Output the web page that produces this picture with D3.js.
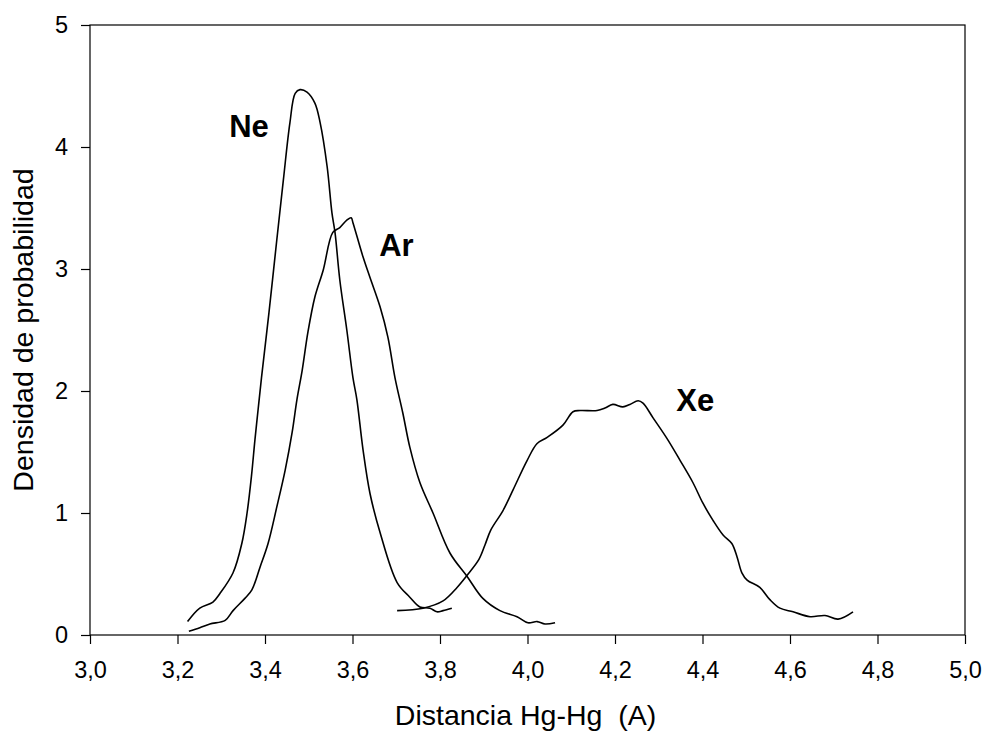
<!DOCTYPE html>
<html lang="en">
<head>
    <meta charset="UTF-8">
    <title>Densidad de probabilidad</title>
    <style>
        body { margin: 0; background: #fff; }
        svg { font-family: "Liberation Sans", Arial, sans-serif; }
        .curve { fill: none; stroke: #000; stroke-width: 1.6px; }
        .axis path, .axis line { stroke: #000; stroke-width: 1.2px; }
        .axis text { font-size: 23.5px; fill: #000; }
        .label { font-size: 31px; font-weight: bold; }
        .title { font-size: 28.5px; }
    </style>
    <script src="https://d3js.org/d3.v7.min.js"></script>
</head>
<body>
    <script>

        // Curves: [distance, density]
        const neData = [
            [3.223, 0.11], [3.251, 0.22], [3.281, 0.27], [3.297, 0.34], [3.327, 0.51],
            [3.347, 0.75], [3.359, 1.00], [3.369, 1.30], [3.377, 1.60], [3.384, 1.84],
            [3.392, 2.11], [3.409, 2.64], [3.427, 3.24], [3.442, 3.73], [3.457, 4.20],
            [3.469, 4.44], [3.480, 4.47], [3.496, 4.45], [3.514, 4.36], [3.526, 4.20],
            [3.542, 3.84], [3.553, 3.46], [3.560, 3.30], [3.571, 2.91], [3.587, 2.50],
            [3.601, 2.11], [3.610, 1.93], [3.624, 1.52], [3.640, 1.16], [3.663, 0.84],
            [3.702, 0.43], [3.731, 0.31], [3.754, 0.23], [3.777, 0.22], [3.793, 0.19],
            [3.807, 0.20], [3.827, 0.22]
        ];
        const arData = [
            [3.226, 0.03], [3.251, 0.06], [3.274, 0.09], [3.309, 0.12], [3.327, 0.20],
            [3.354, 0.30], [3.370, 0.37], [3.389, 0.56], [3.407, 0.75], [3.427, 1.05],
            [3.446, 1.35], [3.462, 1.66], [3.473, 1.93], [3.485, 2.17], [3.498, 2.48],
            [3.514, 2.77], [3.533, 2.99], [3.555, 3.30], [3.571, 3.34], [3.587, 3.40],
            [3.597, 3.42], [3.601, 3.38], [3.624, 3.10], [3.640, 2.93], [3.663, 2.69],
            [3.681, 2.44], [3.697, 2.11], [3.715, 1.82], [3.731, 1.54], [3.754, 1.25],
            [3.784, 1.00], [3.823, 0.67], [3.862, 0.48], [3.898, 0.30], [3.937, 0.20],
            [3.976, 0.15], [4.001, 0.10], [4.022, 0.11], [4.040, 0.09], [4.063, 0.10]
        ];
        const xeData = [
            [3.702, 0.20], [3.761, 0.22], [3.807, 0.28], [3.839, 0.39], [3.862, 0.49],
            [3.889, 0.62], [3.903, 0.74], [3.916, 0.86], [3.944, 1.02], [3.967, 1.19],
            [3.999, 1.43], [4.022, 1.57], [4.045, 1.62], [4.081, 1.72], [4.104, 1.83],
            [4.120, 1.84], [4.159, 1.84], [4.177, 1.86], [4.195, 1.89], [4.218, 1.87],
            [4.234, 1.89], [4.253, 1.92], [4.264, 1.90], [4.287, 1.78], [4.319, 1.61],
            [4.349, 1.43], [4.378, 1.25], [4.401, 1.08], [4.424, 0.94], [4.447, 0.82],
            [4.467, 0.75], [4.479, 0.64], [4.490, 0.51], [4.502, 0.45], [4.531, 0.39],
            [4.554, 0.29], [4.577, 0.22], [4.607, 0.19], [4.646, 0.15], [4.680, 0.16],
            [4.710, 0.13], [4.744, 0.19]
        ];

        const xTicks = [3.0, 3.2, 3.4, 3.6, 3.8, 4.0, 4.2, 4.4, 4.6, 4.8, 5.0];
        const yTicks = [0, 1, 2, 3, 4, 5];

        // label text, anchor point in data units
        const curveLabels = [
            { text: "Ne", x: 3.318, y: 4.08 },
            { text: "Ar", x: 3.661, y: 3.11 },
            { text: "Xe", x: 4.340, y: 1.84 }
        ];

        const width = 984, height = 733;
        const margin = { top: 25, right: 19, bottom: 98, left: 90 };

        const svg = d3.select("body").append("svg")
            .attr("width", width)
            .attr("height", height);

        const x = d3.scaleLinear().domain([3, 5]).range([margin.left, width - margin.right]);
        const y = d3.scaleLinear().domain([0, 5]).range([height - margin.bottom, margin.top]);

        const fmt = d => d3.format(".1f")(d).replace(".", ",");

        // frame
        svg.append("rect")
            .attr("x", x(3)).attr("y", y(5))
            .attr("width", x(5) - x(3)).attr("height", y(0) - y(5))
            .attr("fill", "none").attr("stroke", "#000").attr("stroke-width", 1.2);

        svg.append("g").attr("class", "axis")
            .attr("transform", `translate(0,${y(0)})`)
            .call(d3.axisBottom(x).tickValues(xTicks).tickFormat(fmt).tickSize(9).tickPadding(17).tickSizeOuter(0))
            .call(g => g.select(".domain").remove())
            .call(g => g.selectAll("text").attr("font-family", null).attr("font-size", null));

        svg.append("g").attr("class", "axis")
            .attr("transform", `translate(${x(3)},0)`)
            .call(d3.axisLeft(y).tickValues(yTicks).tickFormat(d3.format("d")).tickSize(9).tickPadding(13).tickSizeOuter(0))
            .call(g => g.select(".domain").remove())
            .call(g => g.selectAll("text").attr("font-family", null).attr("font-size", null));

        const line = d3.line()
            .x(d => x(d[0]))
            .y(d => y(d[1]))
            .curve(d3.curveCatmullRom.alpha(0.5));

        [neData, arData, xeData].forEach(data => {
            svg.append("path").attr("class", "curve").attr("d", line(data));
        });

        svg.selectAll(".label").data(curveLabels).enter().append("text")
            .attr("class", "label")
            .attr("x", d => x(d.x))
            .attr("y", d => y(d.y))
            .text(d => d.text);

        svg.append("text").attr("class", "title")
            .attr("x", (x(3) + x(5)) / 2 - 2)
            .attr("y", 725)
            .attr("text-anchor", "middle")
            .text("Distancia Hg-Hg\u00a0\u00a0(A)");

        svg.append("text").attr("class", "title")
            .attr("transform", `translate(33,${(y(0) + y(5)) / 2}) rotate(-90)`)
            .attr("text-anchor", "middle")
            .text("Densidad de probabilidad");
    </script>
</body>
</html>
